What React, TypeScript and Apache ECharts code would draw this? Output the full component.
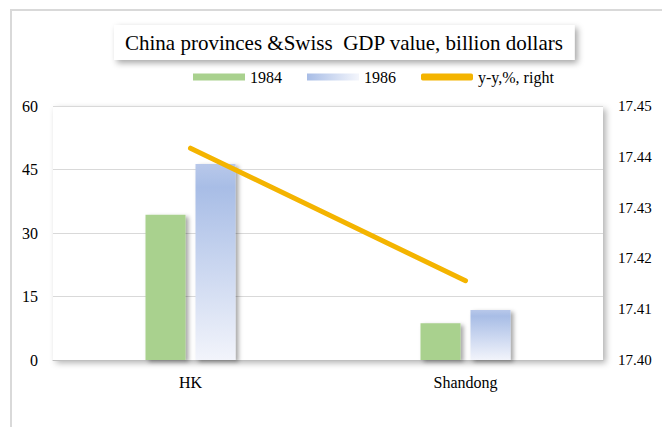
import React, { useEffect, useRef } from "react";
import * as echarts from "echarts";

const categories = ["HK", "Shandong"];
const gdp1984 = [34.3, 8.7];
const gdp1986 = [46.3, 11.8];
const yoy = [17.4417, 17.4156];
const leftTicks = { min: 0, max: 60, interval: 15 };
const rightTicks = { min: 17.4, max: 17.45, interval: 0.01 };
const titleText = "China provinces &Swiss  GDP value, billion dollars";
const legendNames = ["1984", "1986", "y-y,%, right"];

const FONT = "Liberation Serif";

export default function App() {
  const ref = useRef<HTMLDivElement>(null);
  useEffect(() => {
    if (!ref.current) return;
    const chart = echarts.init(ref.current, undefined, { renderer: "svg" });
    const barShadow = {
      shadowBlur: 4,
      shadowOffsetX: 3,
      shadowOffsetY: 2,
      shadowColor: "rgba(0,0,0,0.35)",
    };
    const grad1986 = new echarts.graphic.LinearGradient(0, 0, 0, 1, [
      { offset: 0, color: "#B8C8EA" },
      { offset: 0.12, color: "#A8BDE6" },
      { offset: 1, color: "#F2F4FB" },
    ]);
    const legendGrad = new echarts.graphic.LinearGradient(0, 0, 1, 0, [
      { offset: 0, color: "#A8BDE6" },
      { offset: 1, color: "#F4F6FC" },
    ]);
    chart.setOption({
      animation: false,
      backgroundColor: "#ffffff",
      textStyle: { fontFamily: FONT },
      graphic: [
        {
          type: "rect",
          shape: { x: 11, y: 10, width: 700, height: 500 },
          style: { fill: "none", stroke: "#D9D9D9", lineWidth: 2 },
          z: -10,
          silent: true,
        },
      ],
      title: {
        text: titleText,
        left: 114,
        top: 25,
        padding: [7, 11, 7, 11],
        backgroundColor: "#ffffff",
        shadowBlur: 6,
        shadowOffsetX: 3,
        shadowOffsetY: 3,
        shadowColor: "rgba(0,0,0,0.35)",
        textStyle: {
          fontFamily: FONT,
          fontSize: 21,
          fontWeight: "normal",
          color: "#000000",
        },
      },
      legend: {
        left: 188,
        top: 64,
        itemWidth: 52,
        itemHeight: 7,
        itemGap: 25,
        textStyle: { fontFamily: FONT, fontSize: 16, color: "#000" },
        data: [
          { name: legendNames[0], icon: "rect" },
          { name: legendNames[1], icon: "rect", itemStyle: { color: legendGrad } },
          { name: legendNames[2], icon: "roundRect" },
        ],
      },
      grid: {
        left: 53,
        right: 59,
        top: 106,
        bottom: 67,
        show: true,
        backgroundColor: "#ffffff",
        borderWidth: 0,
        shadowBlur: 6,
        shadowOffsetX: 3,
        shadowOffsetY: 3,
        shadowColor: "rgba(0,0,0,0.3)",
      },
      xAxis: {
        type: "category",
        data: categories,
        axisTick: { show: false },
        axisLine: { show: true, lineStyle: { color: "#BFBFBF", width: 1 } },
        axisLabel: { fontFamily: FONT, fontSize: 16, color: "#000", margin: 14 },
      },
      yAxis: [
        {
          type: "value",
          min: leftTicks.min,
          max: leftTicks.max,
          interval: leftTicks.interval,
          axisLine: { show: false },
          axisTick: { show: false },
          splitLine: { lineStyle: { color: "#D9D9D9", width: 1 } },
          axisLabel: { fontFamily: FONT, fontSize: 16, color: "#000", margin: 15 },
        },
        {
          type: "value",
          position: "right",
          min: rightTicks.min,
          max: rightTicks.max,
          interval: rightTicks.interval,
          axisLine: { show: false },
          axisTick: { show: false },
          splitLine: { show: false },
          axisLabel: {
            fontFamily: FONT,
            fontSize: 15,
            color: "#000",
            margin: 15,
            formatter: (v: number) => v.toFixed(2),
          },
        },
      ],
      series: [
        {
          name: legendNames[0],
          type: "bar",
          data: gdp1984,
          barWidth: 40,
          barGap: "25%",
          itemStyle: { color: "#A9D18E", ...barShadow },
        },
        {
          name: legendNames[1],
          type: "bar",
          data: gdp1986,
          barWidth: 40,
          barGap: "25%",
          itemStyle: { color: grad1986, ...barShadow },
        },
        {
          name: legendNames[2],
          type: "line",
          yAxisIndex: 1,
          data: yoy,
          symbol: "none",
          lineStyle: { color: "#F4B400", width: 5, cap: "round" },
          itemStyle: { color: "#F4B400" },
        },
      ],
    });
    return () => chart.dispose();
  }, []);
  return (
    <div
      ref={ref}
      style={{ position: "fixed", left: 0, top: 0, width: 662, height: 427 }}
    />
  );
}
